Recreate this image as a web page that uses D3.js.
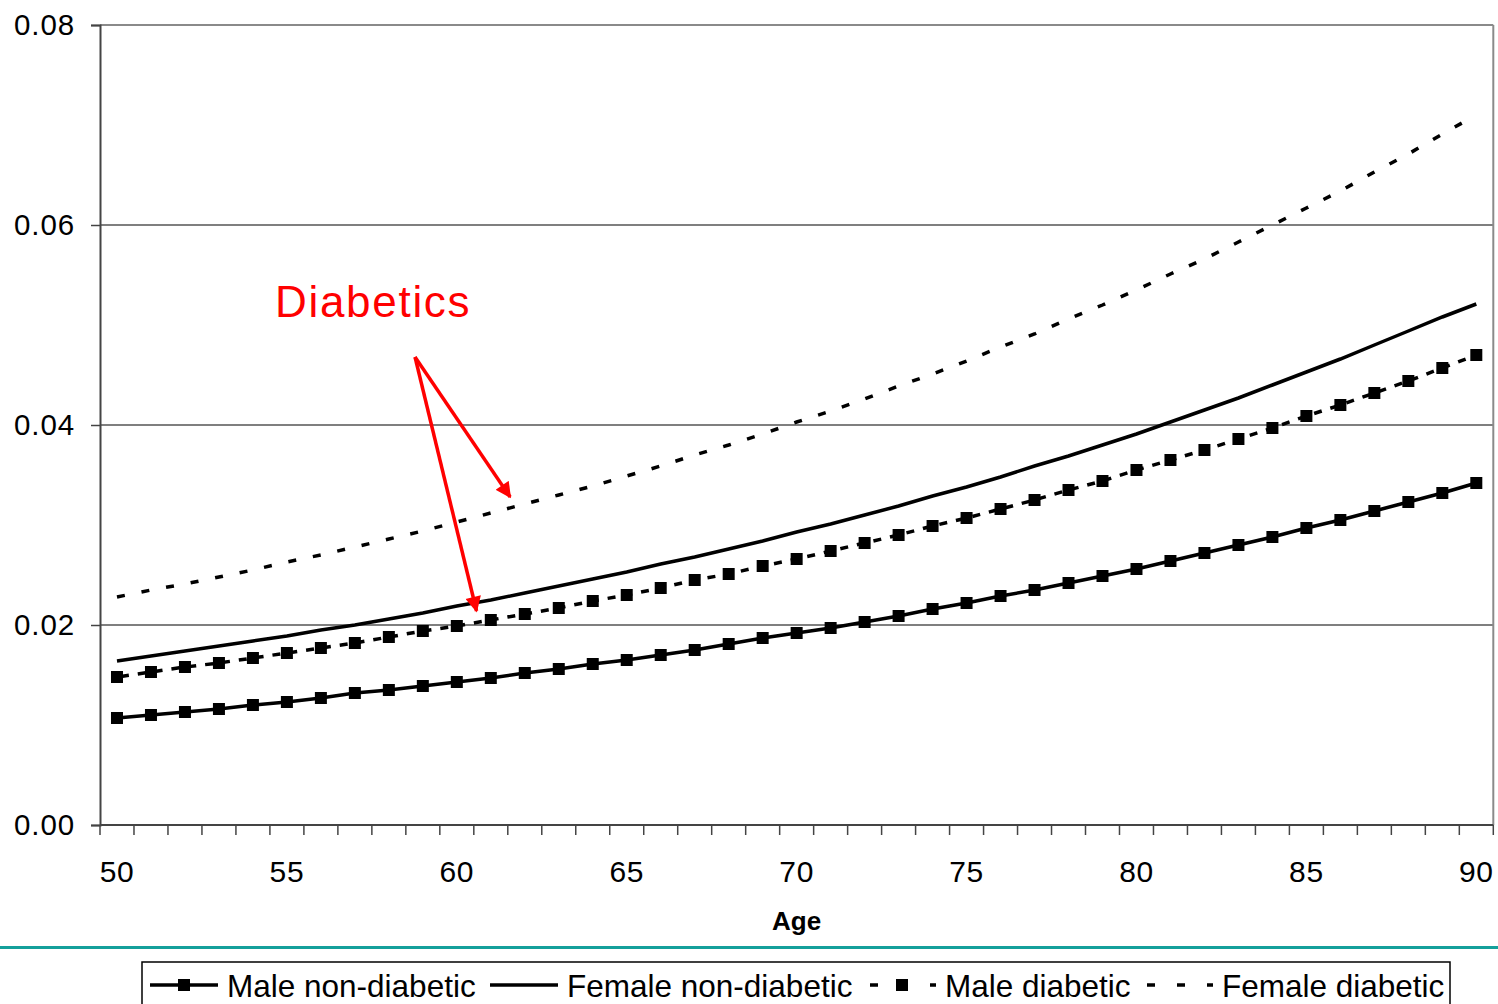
<!DOCTYPE html>
<html><head><meta charset="utf-8">
<script src="https://cdn.jsdelivr.net/npm/d3@7"></script>
<style>
html,body{margin:0;padding:0;background:#fff;}
svg{display:block;font-family:"Liberation Sans",Arial,sans-serif;}
</style></head>
<body>
<svg id="chart" width="1498" height="1004"></svg>
<script>
const ages = d3.range(50, 91);
const maleNonDiabetic = [0.0107,0.0110,0.0113,0.0116,0.0120,0.0123,0.0127,0.0132,0.0135,0.0139,
  0.0143,0.0147,0.0152,0.0156,0.0161,0.0165,0.0170,0.0175,0.0181,0.0187,
  0.0192,0.0197,0.0203,0.0209,0.0216,0.0222,0.0229,0.0235,0.0242,0.0249,
  0.0256,0.0264,0.0272,0.0280,0.0288,0.0297,0.0305,0.0314,0.0323,0.0332,0.0342];
const femaleNonDiabetic = [0.0164,0.0169,0.0174,0.0179,0.0184,0.0189,0.0195,0.0200,0.0206,0.0212,
  0.0219,0.0225,0.0232,0.0239,0.0246,0.0253,0.0261,0.0268,0.0276,0.0284,
  0.0293,0.0301,0.0310,0.0319,0.0329,0.0338,0.0348,0.0359,0.0369,0.0380,
  0.0391,0.0403,0.0415,0.0427,0.0440,0.0453,0.0466,0.0480,0.0494,0.0508,0.0521];
const maleDiabetic = [0.0148,0.0153,0.0158,0.0162,0.0167,0.0172,0.0177,0.0182,0.0188,0.0194,
  0.0199,0.0205,0.0211,0.0217,0.0224,0.0230,0.0237,0.0245,0.0251,0.0259,
  0.0266,0.0274,0.0282,0.0290,0.0299,0.0307,0.0316,0.0325,0.0335,0.0344,
  0.0355,0.0365,0.0375,0.0386,0.0397,0.0409,0.0420,0.0432,0.0444,0.0457,0.0470];
const femaleDiabetic = [0.0228,0.0235,0.0241,0.0248,0.0255,0.0263,0.0270,0.0278,0.0286,0.0294,
  0.0303,0.0312,0.0321,0.0330,0.0339,0.0349,0.0359,0.0370,0.0380,0.0391,
  0.0403,0.0414,0.0426,0.0439,0.0451,0.0464,0.0478,0.0491,0.0506,0.0520,
  0.0535,0.0551,0.0566,0.0583,0.0600,0.0617,0.0634,0.0653,0.0671,0.0691,0.0710];
const yTicks = [0, 0.02, 0.04, 0.06, 0.08];
const xTickLabels = [50,55,60,65,70,75,80,85,90];
const seriesNames = ["Male non-diabetic","Female non-diabetic","Male diabetic","Female diabetic"];
const xTitle = "Age";
const annotationText = "Diabetics";
// annotation anchor points in data space: [age, value]
const annoLabel = [54.65, 0.0508];
const annoOrigin = [58.77, 0.0468];
const annoTargets = [[61.57, 0.0328],[60.58, 0.0214]];

const svg = d3.select("#chart");
const L = 100, R = 1493.3, T = 25, B = 825;
const x = d3.scaleBand().domain(ages).range([L, R]).padding(0);
const cx = a => x(a) + x.bandwidth()/2;
const xc = d3.scaleLinear().domain([50, 51]).range([cx(50), cx(51)]);
const y = d3.scaleLinear().domain([0, 0.08]).range([B, T]);

// gridlines
svg.append("g").selectAll("line").data(yTicks.filter(v => v > 0 && v < 0.08)).join("line")
  .attr("x1", L).attr("x2", R).attr("y1", d => y(d)).attr("y2", d => y(d))
  .attr("stroke", "#000").attr("stroke-width", 1.2);
// top & right border
svg.append("line").attr("x1", L).attr("x2", R).attr("y1", y(0.08)).attr("y2", y(0.08))
  .attr("stroke", "#8a8a8a").attr("stroke-width", 2);
svg.append("line").attr("x1", R).attr("x2", R).attr("y1", T).attr("y2", B)
  .attr("stroke", "#8a8a8a").attr("stroke-width", 2);

// y axis
const yAxis = d3.axisLeft(y).tickValues(yTicks).tickFormat(d3.format(".2f")).tickSize(9).tickPadding(16);
const gy = svg.append("g").attr("transform", `translate(${L},0)`).call(yAxis);
gy.select(".domain").attr("stroke", "#444").attr("stroke-width", 2);
gy.selectAll(".tick line").attr("stroke", "#444").attr("stroke-width", 1.5);
gy.selectAll("text").attr("font-size", 29.5).attr("fill", "#000").attr("letter-spacing", 0.9)
  .attr("font-family", "Liberation Sans, Arial, sans-serif");

// x axis
svg.append("line").attr("x1", L).attr("x2", R).attr("y1", B).attr("y2", B)
  .attr("stroke", "#444").attr("stroke-width", 2);
const edges = ages.map(a => x(a)).concat([R]);
svg.append("g").selectAll("line").data(edges).join("line")
  .attr("x1", d => d).attr("x2", d => d).attr("y1", B).attr("y2", B + 10)
  .attr("stroke", "#444").attr("stroke-width", 1.5);
svg.append("g").selectAll("text").data(xTickLabels).join("text")
  .attr("x", d => cx(d)).attr("y", B + 57).attr("text-anchor", "middle")
  .attr("font-size", 30).attr("letter-spacing", 0.6).attr("fill", "#000").text(d => d);
svg.append("text").attr("x", (L + R)/2).attr("y", B + 105).attr("text-anchor", "middle")
  .attr("font-size", 26).attr("font-weight", "bold").text(xTitle);

// series
const line = d3.line().x((d,i) => cx(ages[i])).y(d => y(d));
const g = svg.append("g");
g.append("path").datum(femaleDiabetic).attr("d", line).attr("fill", "none")
  .attr("stroke", "#000").attr("stroke-width", 3.5).attr("stroke-dasharray", "8,17");
g.append("path").datum(femaleNonDiabetic).attr("d", line).attr("fill", "none")
  .attr("stroke", "#000").attr("stroke-width", 3.5);
g.append("path").datum(maleDiabetic).attr("d", line).attr("fill", "none")
  .attr("stroke", "#000").attr("stroke-width", 3.5).attr("stroke-dasharray", "8,9").attr("stroke-dashoffset", -4);
g.append("path").datum(maleNonDiabetic).attr("d", line).attr("fill", "none")
  .attr("stroke", "#000").attr("stroke-width", 3.5);
const ms = 12;
[maleDiabetic, maleNonDiabetic].forEach(arr => {
  g.append("g").selectAll("rect").data(arr).join("rect")
    .attr("x", (d,i) => cx(ages[i]) - ms/2).attr("y", d => y(d) - ms/2)
    .attr("width", ms).attr("height", ms).attr("fill", "#000");
});

// annotation
const red = "#ff0000";
svg.append("defs").append("marker").attr("id", "ah").attr("viewBox", "0 0 10 10")
  .attr("refX", 9).attr("refY", 5).attr("markerWidth", 5).attr("markerHeight", 4.5)
  .attr("markerUnits", "strokeWidth").attr("orient", "auto")
  .append("path").attr("d", "M0,0 L10,5 L0,10 z").attr("fill", red);
svg.append("text").attr("x", xc(annoLabel[0])).attr("y", y(annoLabel[1]))
  .attr("font-size", 44).attr("letter-spacing", 1.7).attr("fill", red).text(annotationText);
annoTargets.forEach(t => {
  svg.append("line").attr("x1", xc(annoOrigin[0])).attr("y1", y(annoOrigin[1]))
    .attr("x2", xc(t[0])).attr("y2", y(t[1]))
    .attr("stroke", red).attr("stroke-width", 3.5).attr("marker-end", "url(#ah)");
});

// teal separator
svg.append("line").attr("x1", 0).attr("x2", 1498).attr("y1", 947.5).attr("y2", 947.5)
  .attr("stroke", "#14a09b").attr("stroke-width", 3);

// legend
const lg = svg.append("g");
lg.append("rect").attr("x", 142).attr("y", 962).attr("width", 1308).attr("height", 60)
  .attr("fill", "none").attr("stroke", "#000").attr("stroke-width", 1.5);
const legendX = [150, 490, 868, 1145];
const ly = 985;
const styles = [
  {dash: null, marker: true},
  {dash: null, marker: false},
  {dash: "8,22", marker: true},
  {dash: "8,22", marker: false}
];
seriesNames.forEach((name, i) => {
  const x0 = legendX[i];
  const st = styles[i];
  const ln = lg.append("line").attr("x1", x0).attr("x2", x0 + 68).attr("y1", ly).attr("y2", ly)
    .attr("stroke", "#000").attr("stroke-width", 3.5);
  if (st.dash) ln.attr("stroke-dasharray", st.dash).attr("stroke-dashoffset", -2);
  if (st.marker) lg.append("rect").attr("x", x0 + 34 - ms/2).attr("y", ly - ms/2)
    .attr("width", ms).attr("height", ms).attr("fill", "#000");
  lg.append("text").attr("x", x0 + 77).attr("y", ly + 11.5).attr("font-size", 31.5).attr("fill", "#000").text(name);
});
</script>
</body></html>
